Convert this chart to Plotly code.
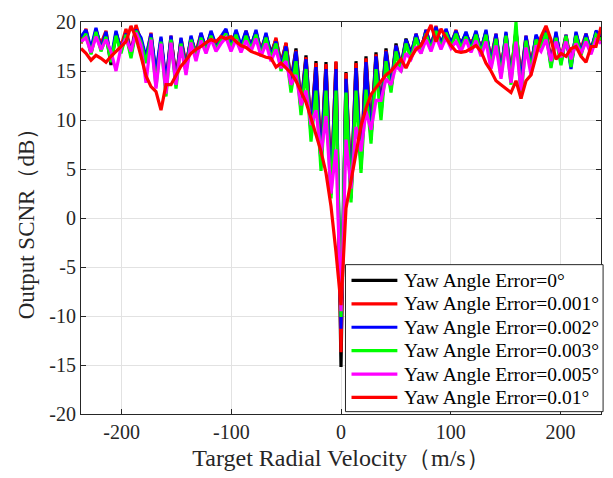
import plotly.graph_objects as go

# Target radial velocity sample grid (m/s), k*237/52 for k=-52..52
velocity = [round(k * 237 / 52, 3) for k in range(-52, 53)]

scnr_0 = [18.2, 19.0, 17.0, 19.2, 17.5, 18.8, 15.6, 18.9, 17.2, 19.0,
          16.6, 19.4, 18.2, 16.0, 18.6, 14.5, 18.3, 13.5, 18.4, 14.3,
          18.1, 15.5, 18.4, 16.8, 18.6, 17.4, 18.9, 17.5, 18.3, 19.1,
          17.6, 19.0, 17.4, 18.9, 17.6, 19.0, 17.0, 18.7, 16.8, 18.2,
          15.8, 17.8, 14.0, 17.3, 11.5, 16.6, 9.0, 16.0, 6.0, 15.9,
          3.0, 15.9, -15.2, 14.9, 2.5, 16.0, 5.5, 16.5, 8.5, 16.9,
          11.0, 17.3, 13.5, 17.8, 15.5, 18.3, 16.8, 18.6, 17.3, 19.0,
          17.6, 19.3, 17.8, 19.1, 17.9, 18.9, 17.8, 18.8, 17.6, 18.9,
          17.2, 19.0, 16.0, 18.6, 15.0, 18.8, 14.5, 19.2, 14.0, 18.4,
          15.5, 18.5, 17.8, 19.0, 15.8, 18.8, 16.0, 18.5, 15.6, 18.8,
          17.0, 18.6, 17.2, 18.9, 18.4]

scnr_0001 = [17.8, 19.3, 16.8, 18.9, 17.8, 19.1, 16.0, 18.6, 17.5, 19.3,
             16.9, 19.7, 18.0, 16.3, 18.9, 14.2, 18.0, 13.8, 18.6, 14.0,
             18.3, 15.8, 18.1, 17.0, 18.8, 17.1, 18.7, 17.8, 18.5, 18.8,
             17.9, 18.8, 17.2, 19.1, 17.4, 18.8, 17.3, 18.5, 16.5, 18.4,
             15.5, 17.9, 13.7, 17.1, 11.2, 16.4, 8.7, 15.8, 5.7, 15.7,
             2.7, 16.0, -13.7, 14.8, 2.2, 15.8, 5.2, 16.3, 8.2, 16.7,
             10.7, 17.1, 13.2, 17.6, 15.2, 18.1, 16.5, 18.8, 17.0, 19.2,
             17.4, 19.6, 17.5, 18.9, 17.6, 19.2, 17.5, 18.6, 17.9, 18.7,
             17.4, 18.8, 16.3, 18.8, 15.3, 18.5, 14.8, 19.0, 14.3, 18.6,
             15.8, 18.3, 17.5, 19.2, 16.1, 18.6, 16.3, 18.7, 15.9, 18.5,
             17.3, 18.8, 16.9, 18.6, 18.1]

scnr_0002 = [18.5, 19.2, 17.3, 19.4, 17.2, 19.0, 16.2, 19.1, 17.0, 18.8,
             16.9, 19.2, 18.4, 16.4, 18.8, 14.8, 18.5, 13.8, 18.6, 13.6,
             18.4, 15.2, 18.6, 16.5, 18.9, 17.2, 19.1, 17.6, 18.5, 19.3,
             17.4, 19.2, 17.6, 19.1, 17.4, 19.2, 16.8, 18.9, 16.5, 18.0,
             15.5, 17.5, 13.6, 17.0, 11.0, 16.2, 8.4, 15.4, 5.4, 15.2,
             2.4, 15.2, -11.3, 14.2, 2.0, 15.3, 5.0, 15.9, 8.0, 16.5,
             10.6, 17.0, 13.2, 17.6, 15.3, 18.2, 16.6, 18.8, 17.1, 19.2,
             17.4, 19.5, 17.6, 19.3, 17.7, 19.1, 17.6, 19.0, 17.4, 19.1,
             17.0, 19.2, 15.8, 18.8, 14.8, 19.0, 14.2, 19.0, 13.8, 18.6,
             15.3, 18.7, 17.5, 19.2, 15.5, 19.0, 15.8, 18.7, 15.2, 19.0,
             16.8, 18.8, 16.9, 19.1, 18.6]

scnr_0003 = [17.9, 18.8, 16.7, 19.0, 17.0, 18.5, 15.9, 18.6, 16.8, 18.7,
             16.3, 19.1, 17.9, 15.8, 18.4, 13.4, 18.0, 12.4, 18.2, 13.2,
             17.8, 14.9, 18.2, 16.4, 18.4, 17.0, 18.6, 17.2, 18.1, 18.8,
             17.3, 18.7, 17.1, 18.6, 17.2, 18.7, 16.6, 18.4, 16.2, 17.8,
             15.0, 17.0, 12.8, 16.0, 10.5, 15.2, 7.8, 13.0, 4.8, 13.0,
             2.0, 13.0, -10.1, 12.8, 1.6, 13.0, 4.6, 13.1, 7.6, 15.2,
             10.0, 16.0, 12.8, 17.0, 14.9, 17.8, 16.2, 18.4, 16.8, 18.8,
             17.1, 19.1, 17.3, 18.9, 17.4, 18.8, 17.3, 18.5, 17.1, 18.7,
             16.8, 18.7, 15.4, 18.3, 14.4, 18.6, 13.6, 20.0, 12.2, 18.1,
             15.0, 18.2, 17.3, 18.9, 15.3, 18.4, 15.6, 18.6, 15.4, 18.6,
             16.6, 18.4, 16.8, 18.7, 18.2]

scnr_0005 = [18.0, 18.4, 16.9, 18.5, 17.2, 18.2, 17.0, 15.0, 17.4, 18.3,
             17.0, 18.9, 17.6, 13.8, 18.2, 13.2, 17.8, 12.7, 17.9, 13.6,
             17.5, 14.6, 17.9, 16.0, 18.1, 16.8, 18.3, 17.0, 17.8, 18.4,
             17.0, 18.2, 16.9, 18.1, 17.0, 18.3, 16.5, 17.8, 16.0, 17.2,
             15.3, 16.0, 13.6, 14.6, 11.5, 13.0, 9.5, 11.0, 6.5, 10.4,
             2.5, 7.0, -9.5, 8.0, 3.0, 9.3, 6.8, 10.9, 9.0, 12.0,
             12.0, 14.2, 13.6, 15.5, 15.0, 16.8, 16.2, 17.5, 16.8, 18.2,
             17.0, 18.5, 17.2, 18.4, 17.3, 18.0, 17.0, 18.2, 16.9, 18.1,
             16.5, 18.0, 15.2, 17.6, 14.2, 17.8, 13.8, 18.0, 13.0, 17.4,
             14.6, 17.6, 17.0, 18.2, 16.0, 18.0, 16.4, 18.0, 16.2, 17.8,
             16.8, 18.0, 16.7, 18.2, 17.8]

scnr_001 = [17.3, 16.8, 16.1, 16.6, 16.3, 15.9, 16.5, 17.0, 17.6, 18.0,
            19.6, 18.4, 16.5, 14.5, 13.4, 12.9, 11.0, 13.6, 13.6, 14.6,
            15.5, 16.1, 16.8, 17.2, 17.5, 17.9, 18.2, 18.0, 18.5, 18.3,
            18.5, 18.0, 17.6, 17.4, 17.0, 16.8, 16.6, 16.4, 16.3, 15.4,
            15.8, 15.3, 14.8, 14.0, 12.9, 11.8, 10.2, 8.5, 6.8, 4.6,
            1.2, -3.5, -8.9, 1.0, 3.8, 6.8, 9.4, 11.2, 12.6, 13.3,
            14.0, 14.6, 15.0, 15.6, 16.2, 15.3, 16.4, 17.2, 17.6, 18.6,
            19.7, 18.0, 19.3, 18.4, 17.6, 17.0, 16.9, 17.0, 17.3, 17.6,
            17.0, 15.8, 15.0, 14.0, 13.6, 13.2, 12.8, 14.0, 12.2, 14.0,
            14.6, 16.5, 18.5, 19.6, 18.2, 16.2, 16.8, 16.5, 17.3, 17.5,
            16.5, 15.9, 17.5, 17.5, 19.5]

series_names = ["Yaw Angle Error=0°", "Yaw Angle Error=0.001°", "Yaw Angle Error=0.002°",
                "Yaw Angle Error=0.003°", "Yaw Angle Error=0.005°", "Yaw Angle Error=0.01°"]
series_values = [scnr_0, scnr_0001, scnr_0002, scnr_0003, scnr_0005, scnr_001]
series_colors = ["#000000", "#ff0000", "#0000ff", "#00ff00", "#ff00ff", "#ff0000"]

x_ticks = [-200, -100, 0, 100, 200]
x_ticklabels = ["-200", "-100", "0", "100", "200"]
y_ticks = [-20, -15, -10, -5, 0, 5, 10, 15, 20]
y_ticklabels = ["-20", "-15", "-10", "-5", "0", "5", "10", "15", "20"]

serif = "Liberation Serif, Times New Roman, serif"

fig = go.Figure()
for name, vals, col in zip(series_names, series_values, series_colors):
    fig.add_trace(go.Scatter(x=velocity, y=vals, mode="lines", name=name,
                             line=dict(color=col, width=3.2), showlegend=False))

axis_common = dict(showgrid=True, gridcolor="#e2e2e2", gridwidth=1, zeroline=False,
                   showline=True, linecolor="#262626", linewidth=1, mirror="ticks",
                   ticks="inside", ticklen=5, tickcolor="#262626",
                   tickfont=dict(family=serif, size=20, color="#262626"))

# Legend box (MATLAB-style compact legend), laid out in paper fractions
leg_x0, leg_x1 = 0.5086, 1.004
leg_y0, leg_y1 = 0.006, 0.381
row_top, row_step = 0.3407, 0.0597
line_x0, line_x1, text_x = 0.5202, 0.6084, 0.6165

shapes = [dict(type="rect", xref="paper", yref="paper", x0=leg_x0, x1=leg_x1,
               y0=leg_y0, y1=leg_y1, fillcolor="white",
               line=dict(color="#262626", width=1), layer="above")]
annotations = []
for i, (name, col) in enumerate(zip(series_names, series_colors)):
    yy = row_top - i * row_step
    shapes.append(dict(type="line", xref="paper", yref="paper", x0=line_x0, x1=line_x1,
                       y0=yy, y1=yy, line=dict(color=col, width=3.2), layer="above"))
    annotations.append(dict(text=name, xref="paper", yref="paper", x=text_x, y=yy,
                            xanchor="left", yanchor="middle", showarrow=False,
                            font=dict(family=serif, size=19.5, color="#000000")))

fig.update_layout(
    width=613, height=478,
    margin=dict(l=81, r=11, t=12, b=63),
    paper_bgcolor="white", plot_bgcolor="white",
    font=dict(family=serif, color="#262626"),
    xaxis=dict(range=[-237, 237], tickvals=x_ticks, ticktext=x_ticklabels,
               title=dict(text="Target Radial Velocity（m/s）", font=dict(family=serif, size=24),
                          standoff=7),
               **axis_common),
    yaxis=dict(range=[-20, 20], tickvals=y_ticks, ticktext=y_ticklabels,
               title=dict(text="Output SCNR（dB）", font=dict(family=serif, size=23),
                          standoff=8),
               **axis_common),
    shapes=shapes,
    annotations=annotations,
    showlegend=False,
)

fig.write_html("out.html")
